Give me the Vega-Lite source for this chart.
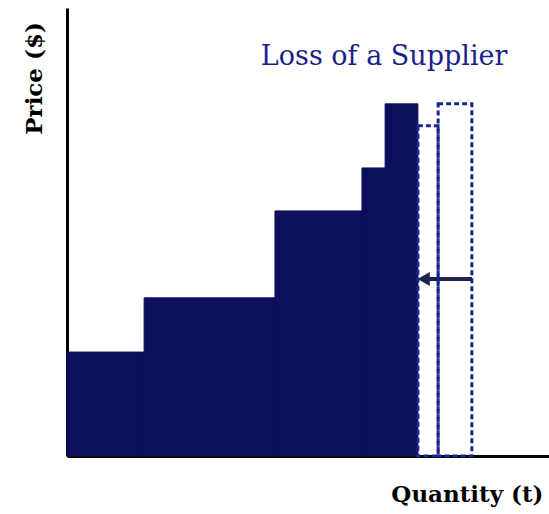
{
  "$schema": "https://vega.github.io/schema/vega-lite/v6.json",
  "width": 482,
  "height": 448,
  "autosize": {"type": "none"},
  "padding": {"left": 67, "top": 8, "right": 0, "bottom": 58},
  "background": "white",
  "config": {"view": {"stroke": null}},
  "datasets": {
    "supply": [
      {"q0": 0, "q1": 16, "price": 23.2},
      {"q0": 16, "q1": 43.15, "price": 35.3},
      {"q0": 43.15, "q1": 61.2, "price": 54.7},
      {"q0": 61.2, "q1": 66, "price": 64.3},
      {"q0": 66, "q1": 72.8, "price": 78.6}
    ],
    "lost": [
      {"q0": 72.8, "q1": 77, "price": 73.7},
      {"q0": 77, "q1": 84, "price": 78.6}
    ],
    "arrow": [
      {"q0": 84, "q1": 75, "price": 39.5, "head": 74.0}
    ],
    "label": [
      {"q": 65.8, "price": 87.3, "text": "Loss of a Supplier"}
    ]
  },
  "encoding": {
    "x": {
      "type": "quantitative",
      "scale": {"domain": [0, 100], "nice": false, "zero": false},
      "axis": {
        "title": "Quantity (t)", "labels": false, "ticks": false, "grid": false,
        "domainColor": "black", "domainWidth": 3,
        "titleFont": "DejaVu Serif", "titleFontWeight": "bold", "titleFontSize": 23, "titleColor": "black",
        "titleX": 476, "titleY": 45, "titleAlign": "right", "titleBaseline": "alphabetic", "titleAnchor": null
      }
    },
    "y": {
      "type": "quantitative",
      "scale": {"domain": [0, 100], "nice": false, "zero": false},
      "axis": {
        "title": "Price ($)", "labels": false, "ticks": false, "grid": false,
        "domainColor": "black", "domainWidth": 3,
        "titleFont": "DejaVu Serif", "titleFontWeight": "bold", "titleFontSize": 23, "titleColor": "black",
        "titleAngle": -90, "titleX": -26, "titleY": 70, "titleAlign": "center", "titleBaseline": "alphabetic", "titleAnchor": null
      }
    }
  },
  "layer": [
    {
      "data": {"name": "supply"},
      "mark": {"type": "rect", "fill": "#0b0f5c", "stroke": "#0b0f5c", "strokeWidth": 1},
      "encoding": {
        "x": {"field": "q0", "type": "quantitative"},
        "x2": {"field": "q1"},
        "y": {"field": "price", "type": "quantitative"},
        "y2": {"datum": 0}
      }
    },
    {
      "data": {"name": "lost"},
      "mark": {"type": "rect", "fill": null, "fillOpacity": 0, "stroke": "#1a2590", "strokeWidth": 3, "strokeDash": [5, 3]},
      "encoding": {
        "x": {"field": "q0", "type": "quantitative"},
        "x2": {"field": "q1"},
        "y": {"field": "price", "type": "quantitative"},
        "y2": {"datum": 0}
      }
    },
    {
      "data": {"name": "arrow"},
      "mark": {"type": "rule", "color": "#1b2550", "strokeWidth": 4},
      "encoding": {
        "x": {"field": "q0", "type": "quantitative"},
        "x2": {"field": "q1"},
        "y": {"field": "price", "type": "quantitative"}
      }
    },
    {
      "data": {"name": "arrow"},
      "mark": {"type": "point", "shape": "triangle-left", "filled": true, "color": "#1b2550", "size": 200, "opacity": 1},
      "encoding": {
        "x": {"field": "head", "type": "quantitative"},
        "y": {"field": "price", "type": "quantitative"}
      }
    },
    {
      "data": {"name": "label"},
      "mark": {"type": "text", "font": "DejaVu Serif", "fontSize": 27, "color": "#1b1f8a", "align": "center", "baseline": "alphabetic"},
      "encoding": {
        "x": {"field": "q", "type": "quantitative"},
        "y": {"field": "price", "type": "quantitative"},
        "text": {"field": "text"}
      }
    }
  ]
}
